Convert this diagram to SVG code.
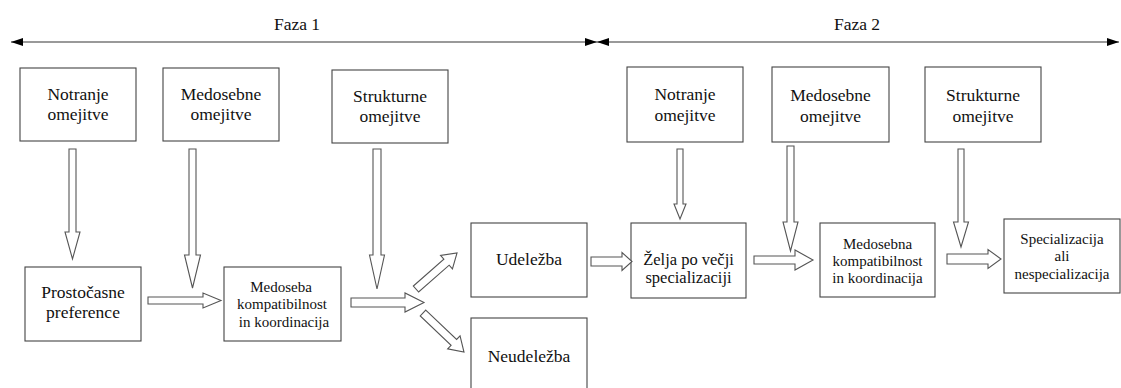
<svg xmlns="http://www.w3.org/2000/svg" width="1121" height="388" viewBox="0 0 1121 388">
  <style>
    .box { fill: #fff; stroke: #444; stroke-width: 1.1; }
    .t { font-family: 'Liberation Serif', 'Times New Roman', serif; fill: #111; text-anchor: middle; }
    .big { font-size: 17.5px; }
    .mid { font-size: 16.5px; }
    .sm { font-size: 15px; }
    .blk { fill: #fff; stroke: #555; stroke-width: 1.1; stroke-linejoin: miter; }
    .phase { stroke: #777; stroke-width: 1.6; fill: none; }
  </style>
  <defs>
    <marker id="tri" viewBox="0 0 12 8" refX="12" refY="4" markerWidth="12" markerHeight="8" markerUnits="userSpaceOnUse" orient="auto-start-reverse">
      <path d="M0,0 L12,4 L0,8 Z" fill="#000"/>
    </marker>
  </defs>

  <rect width="1121" height="388" fill="#fff"/>

  <!-- phase timeline -->
  <g id="phases">
    <line class="phase" x1="11" y1="42" x2="597" y2="42" marker-start="url(#tri)" marker-end="url(#tri)"/>
    <line class="phase" x1="597" y1="42" x2="1119" y2="42" marker-start="url(#tri)" marker-end="url(#tri)"/>
    <text class="t big" x="297" y="30">Faza 1</text>
    <text class="t big" x="857" y="30">Faza 2</text>
  </g>

  <!-- phase 1 nodes -->
  <g id="notranje1">
    <rect class="box" x="20" y="68" width="116" height="73"/>
    <text class="t big" x="78" y="100">Notranje</text>
    <text class="t big" x="78" y="120">omejitve</text>
  </g>
  <g id="medosebne1">
    <rect class="box" x="163" y="68" width="116" height="73"/>
    <text class="t big" x="221" y="100">Medosebne</text>
    <text class="t big" x="221" y="120">omejitve</text>
  </g>
  <g id="strukturne1">
    <rect class="box" x="332" y="70" width="116" height="73"/>
    <text class="t big" x="390" y="102">Strukturne</text>
    <text class="t big" x="390" y="122">omejitve</text>
  </g>
  <g id="prostocasne">
    <rect class="box" x="25" y="267" width="116" height="74"/>
    <text class="t big" x="83" y="298">Prostočasne</text>
    <text class="t big" x="83" y="318">preference</text>
  </g>
  <g id="kompatibilnost1">
    <rect class="box" x="224" y="267" width="117" height="74"/>
    <text class="t sm" x="281" y="292">Medoseba</text>
    <text class="t sm" x="282" y="309">kompatibilnost</text>
    <text class="t sm" x="284" y="326.5">in koordinacija</text>
  </g>
  <g id="udelezba">
    <rect class="box" x="471" y="223" width="116" height="74"/>
    <text class="t big" x="529" y="265">Udeležba</text>
  </g>
  <g id="neudelezba">
    <rect class="box" x="471" y="318" width="116" height="80"/>
    <text class="t big" x="529" y="362">Neudeležba</text>
  </g>

  <!-- phase 2 nodes -->
  <g id="notranje2">
    <rect class="box" x="627" y="67" width="116" height="75"/>
    <text class="t big" x="685" y="100">Notranje</text>
    <text class="t big" x="685" y="121">omejitve</text>
  </g>
  <g id="medosebne2">
    <rect class="box" x="772" y="67" width="117" height="75"/>
    <text class="t big" x="830.5" y="100.5">Medosebne</text>
    <text class="t big" x="830.5" y="121.5">omejitve</text>
  </g>
  <g id="strukturne2">
    <rect class="box" x="925" y="67" width="116" height="75"/>
    <text class="t big" x="983" y="100.5">Strukturne</text>
    <text class="t big" x="983" y="121.5">omejitve</text>
  </g>
  <g id="zelja">
    <rect class="box" x="631" y="223" width="115" height="75"/>
    <text class="t mid" x="688.5" y="265">Želja po večji</text>
    <text class="t mid" x="688.5" y="283">specializaciji</text>
  </g>
  <g id="kompatibilnost2">
    <rect class="box" x="820" y="223" width="115" height="74"/>
    <text class="t sm" x="877.5" y="249">Medosebna</text>
    <text class="t sm" x="877.5" y="266">kompatibilnost</text>
    <text class="t sm" x="877.5" y="283">in koordinacija</text>
  </g>
  <g id="specializacija">
    <rect class="box" x="1004" y="219" width="116" height="74"/>
    <text class="t sm" x="1062" y="244">Specializacija</text>
    <text class="t sm" x="1062" y="261">ali</text>
    <text class="t sm" x="1062" y="279">nespecializacija</text>
  </g>

  <!-- block arrows: drawn pointing along +x, then placed and rotated -->
  <g id="connectors">
    <!-- phase 1 verticals -->
    <polygon class="blk" transform="translate(72.5,149) rotate(90)" points="0,-3.5 83,-3.5 83,-7.5 110,0 83,7.5 83,3.5 0,3.5"/>
    <polygon class="blk" transform="translate(192.5,149) rotate(90)" points="0,-3.5 106,-3.5 106,-8 139,0 106,8 106,3.5 0,3.5"/>
    <polygon class="blk" transform="translate(377,149) rotate(90)" points="0,-4 106,-4 106,-7.5 140,0 106,7.5 106,4 0,4"/>
    <!-- phase 2 verticals -->
    <polygon class="blk" transform="translate(680,149) rotate(90)" points="0,-3 55,-3 55,-6 70,0 55,6 55,3 0,3"/>
    <polygon class="blk" transform="translate(790.5,146) rotate(90)" points="0,-3.5 76,-3.5 76,-7.5 105,0 76,7.5 76,3.5 0,3.5"/>
    <polygon class="blk" transform="translate(961,149) rotate(90)" points="0,-3 73,-3 73,-7.5 98,0 73,7.5 73,3 0,3"/>
    <!-- horizontals -->
    <polygon class="blk" transform="translate(148,300.5)" points="0,-3.5 55,-3.5 55,-7.5 73,0 55,7.5 55,3.5 0,3.5"/>
    <polygon class="blk" transform="translate(351,302.5)" points="0,-4.5 54,-4.5 54,-9.5 73,0 54,9.5 54,4.5 0,4.5"/>
    <polygon class="blk" transform="translate(591,261.5)" points="0,-4.5 31,-4.5 31,-9 41,0 31,9 31,4.5 0,4.5"/>
    <polygon class="blk" transform="translate(754,260)" points="0,-4 41,-4 41,-10 59,0 41,10 41,4 0,4"/>
    <polygon class="blk" transform="translate(947,259)" points="0,-5 41,-5 41,-9.5 54,0 41,9.5 41,5 0,5"/>
    <!-- diagonals to the two outcomes -->
    <polygon class="blk" transform="translate(416,289) rotate(-41.3)" points="0,-4 40.6,-4 40.6,-9 54.6,0 40.6,9 40.6,4 0,4"/>
    <polygon class="blk" transform="translate(423,313) rotate(43.6)" points="0,-4 42.6,-4 42.6,-9 56.6,0 42.6,9 42.6,4 0,4"/>
  </g>
</svg>
